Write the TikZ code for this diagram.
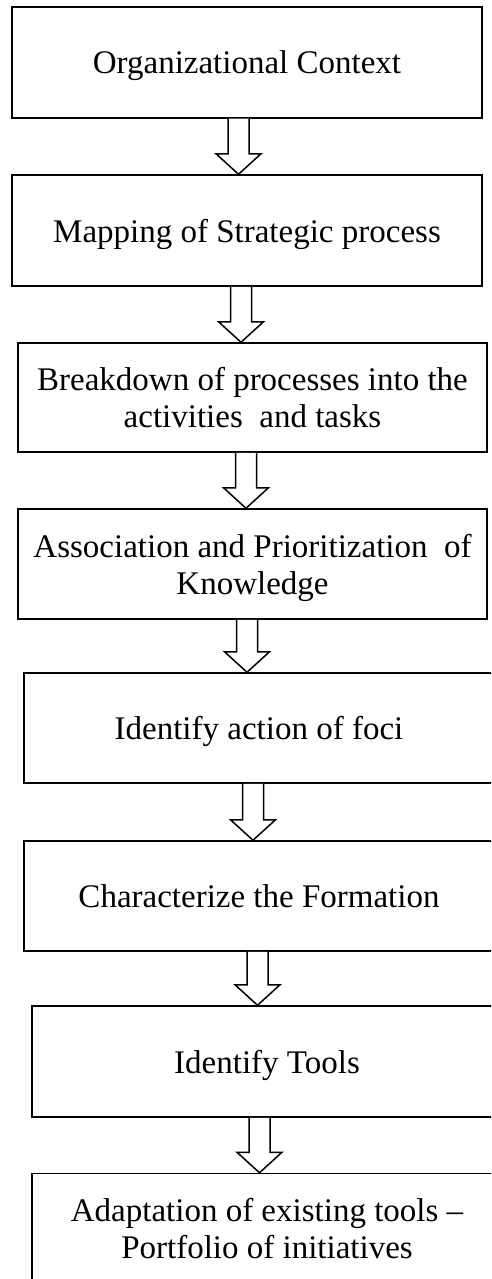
\documentclass[tikz,border=0pt]{standalone}
\usepackage{fontspec}
\setmainfont{Liberation Serif}
\usetikzlibrary{calc}
\begin{document}
\begin{tikzpicture}[x=1pt,y=-1pt,
  stepbox/.style={draw=black, line width=1.5pt, fill=white, minimum width=470pt,
    minimum height=110pt, align=center, inner sep=0pt, text depth=0pt,
    font=\fontsize{33}{37}\selectfont},
  blockarrow/.style={draw=black, line width=1.5pt, fill=white, line join=miter}]
\useasboundingbox (0,0) rectangle (491,1279);
\begin{scope}
\clip (0,0) rectangle (491,1279);
\node[stepbox, minimum height=111pt] (b1) at (247,62.5) {Organizational Context};
\node[stepbox, minimum height=111pt] (b2) at (247,230.5) {Mapping of Strategic process};
\node[stepbox, minimum width=469pt, minimum height=109pt] (b3) at (252.5,397.5) {Breakdown of processes into the\\activities\ \ and tasks};
\node[stepbox, minimum width=469pt] (b4) at (252.5,564) {Association and Prioritization\ \ of\\Knowledge};
\node[stepbox] (b5) at (259,728) {Identify action of foci};
\node[stepbox] (b6) at (259,896) {Characterize the Formation};
\node[stepbox, minimum height=111pt] (b7) at (267,1061.5) {Identify Tools};
\node[stepbox] (b8) at (267,1228.5) {Adaptation of existing tools --\\Portfolio of initiatives};
\newcommand\flowarrow[3]{%
  \draw[blockarrow] let \p1=(#1.south), \p2=(#2.north) in
    ({#3pt-10.5pt},\y1) -- ({#3pt-10.5pt},{\y2+20.5pt}) -- ({#3pt-22.5pt},{\y2+20.5pt})
    -- ({#3pt},\y2) -- ({#3pt+22.5pt},{\y2+20.5pt}) -- ({#3pt+10.5pt},{\y2+20.5pt})
    -- ({#3pt+10.5pt},\y1);}
\flowarrow{b1}{b2}{238.5}
\flowarrow{b2}{b3}{241}
\flowarrow{b3}{b4}{246}
\flowarrow{b4}{b5}{247}
\flowarrow{b5}{b6}{253}
\flowarrow{b6}{b7}{257.5}
\flowarrow{b7}{b8}{259.5}
\end{scope}
\end{tikzpicture}
\end{document}
